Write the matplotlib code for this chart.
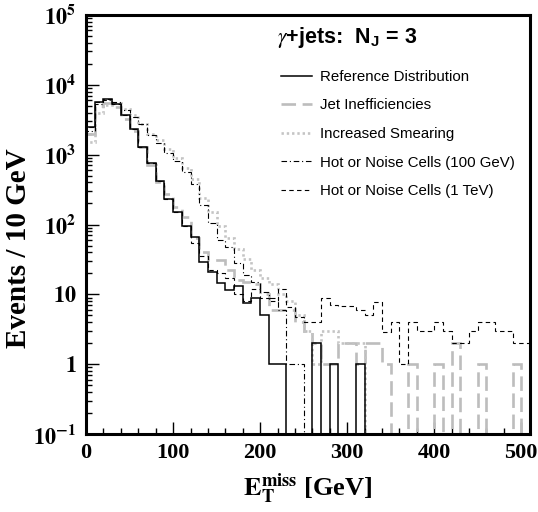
import numpy as np
import matplotlib
matplotlib.use("Agg")
import matplotlib.pyplot as plt
from matplotlib.lines import Line2D
from matplotlib.ticker import FixedLocator, LogLocator, NullFormatter, MultipleLocator

# ---------------- data (events per 10 GeV bin, 0-510 GeV) ----------------
bin_edges = np.arange(0, 520, 10)

reference = [2500, 5700, 6300, 5300, 3700, 2300, 1300, 760, 420, 230,
             150, 95, 67, 29, 21, 14.5, 11.5, 13, 7.5, 8.8,
             5, 1, 1, 0, 0, 0, 2, 0, 1, 0,
             0, 1, 0, 0, 0, 0, 0, 0, 0, 0,
             0, 0, 0, 0, 0, 0, 0, 0, 0, 0, 0]

jet_ineff = [2000, 5000, 5400, 4800, 3200, 2200, 1300, 720, 410, 270,
             180, 130, 64, 40, 31, 31, 22, 16, 15, 14,
             10, 6, 6, 6, 4, 3, 2, 1, 1, 2,
             2, 1, 2, 2, 1, 0, 0, 1, 0, 0,
             1, 0, 2, 0, 0, 1, 0, 0, 0, 1, 0]

smearing = [1500, 4000, 5200, 5500, 4500, 3700, 2700, 2000, 1600, 1200,
            900, 650, 450, 240, 150, 95, 65, 45, 32, 22,
            17, 14, 10, 8, 5, 3, 1, 3, 3, 2,
            2, 2, 0, 0, 0, 0, 0, 0, 0, 0,
            0, 0, 0, 0, 0, 0, 0, 0, 0, 0, 0]

hot_100 = [2200, 5300, 6000, 5600, 4300, 3400, 2700, 1900, 1450, 1050,
           800, 560, 380, 190, 105, 60, 48, 28, 19, 15,
           11, 8.8, 6, 1, 1, 0, 0, 0, 0, 0,
           0, 0, 0, 0, 0, 0, 0, 0, 0, 0,
           0, 0, 0, 0, 0, 0, 0, 0, 0, 0, 0]

hot_1tev = [2500, 5600, 6200, 5300, 3700, 2300, 1300, 760, 420, 230,
            150, 95, 55, 35, 22, 20, 17, 10, 8, 12,
            9, 8, 12, 6.7, 4.8, 4, 4, 8.8, 7, 6.8,
            6.8, 6, 5.1, 7.9, 2.9, 4, 1, 4, 3, 3,
            4, 3, 2, 2, 3, 4, 4, 3, 3, 2, 2]

labels = ["Reference Distribution", "Jet Inefficiencies", "Increased Smearing",
          "Hot or Noise Cells (100 GeV)", "Hot or Noise Cells (1 TeV)"]

ytick_vals = [0.1, 1, 10, 100, 1000, 10000, 100000]
ytick_labels = [r"$\mathbf{10^{-1}}$", r"$\mathbf{1}$", r"$\mathbf{10}$",
                r"$\mathbf{10^{2}}$", r"$\mathbf{10^{3}}$", r"$\mathbf{10^{4}}$",
                r"$\mathbf{10^{5}}$"]
xtick_vals = [0, 100, 200, 300, 400, 500]

# ---------------- styling ----------------
plt.rcParams["mathtext.fontset"] = "stix"
plt.rcParams["font.family"] = ["Liberation Serif", "DejaVu Serif"]

fig = plt.figure(figsize=(5.38, 5.12), dpi=100)
ax = fig.add_axes([0.160, 0.152, 0.825, 0.819])

floor = 1e-3
def prep(v):
    v = np.asarray(v, dtype=float)
    return np.where(v > 0, v, floor)

styles = [
    dict(color="black", lw=1.1, ls="-"),
    dict(color="#bdbdbd", lw=1.9, ls=(0, (5.5, 2.5))),
    dict(color="#c4c4c4", lw=1.9, ls=(0, (0.9, 1.1))),
    dict(color="black", lw=0.8, ls=(0, (5, 2.5, 1, 2.5))),
    dict(color="black", lw=0.8, ls=(0, (4, 3))),
]
series = [reference, jet_ineff, smearing, hot_100, hot_1tev]
order = [1, 2, 3, 4, 0]
for i in order:
    ax.stairs(prep(series[i]), bin_edges, baseline=floor, zorder=2 + (i == 0),
              **styles[i])

ax.set_yscale("log")
ax.set_xlim(0, 510)
ax.set_ylim(0.1, 1e5)

for s in ax.spines.values():
    s.set_linewidth(2.2)

ax.yaxis.set_major_locator(FixedLocator(ytick_vals))
ax.set_yticklabels(ytick_labels)
ax.yaxis.set_minor_locator(LogLocator(base=10, subs=np.arange(2, 10)))
ax.yaxis.set_minor_formatter(NullFormatter())
ax.xaxis.set_major_locator(FixedLocator(xtick_vals))
ax.set_xticklabels([str(v) for v in xtick_vals])
ax.xaxis.set_minor_locator(MultipleLocator(20))

ax.tick_params(axis="both", which="major", direction="in", length=9, width=1.0,
               labelsize=16, top=False, right=False)
ax.tick_params(axis="both", which="minor", direction="in", length=4.5, width=1.0,
               top=False, right=False)
ax.tick_params(axis="x", which="major", pad=6)
ax.tick_params(axis="y", which="major", pad=7)
for lab in ax.get_xticklabels():
    lab.set_fontweight("bold")

ax.set_ylabel("Events / 10 GeV", fontsize=21, fontweight="bold")
ax.yaxis.set_label_coords(-0.122, 0.444)
ax.set_xlabel(r"$\mathbf{E_{T}^{miss}}$ [GeV]", fontsize=19, fontweight="bold",
              labelpad=6)

ax.text(0.43, 0.947, r"$\gamma$+jets:  N$_{\mathregular{J}}$ = 3", transform=ax.transAxes,
        fontsize=15.5, fontweight="bold", family=["Liberation Sans", "DejaVu Sans"],
        ha="left", va="center")

handles = [Line2D([], [], **styles[i]) for i in range(5)]
leg = ax.legend(handles, labels, loc="upper left", bbox_to_anchor=(0.426, 0.883),
                frameon=False, handlelength=2.07, handletextpad=0.53,
                labelspacing=0.97, borderaxespad=0.0,
                prop={"family": ["Liberation Sans", "DejaVu Sans"], "size": 10.8})

fig.savefig("out.png", dpi=100)
